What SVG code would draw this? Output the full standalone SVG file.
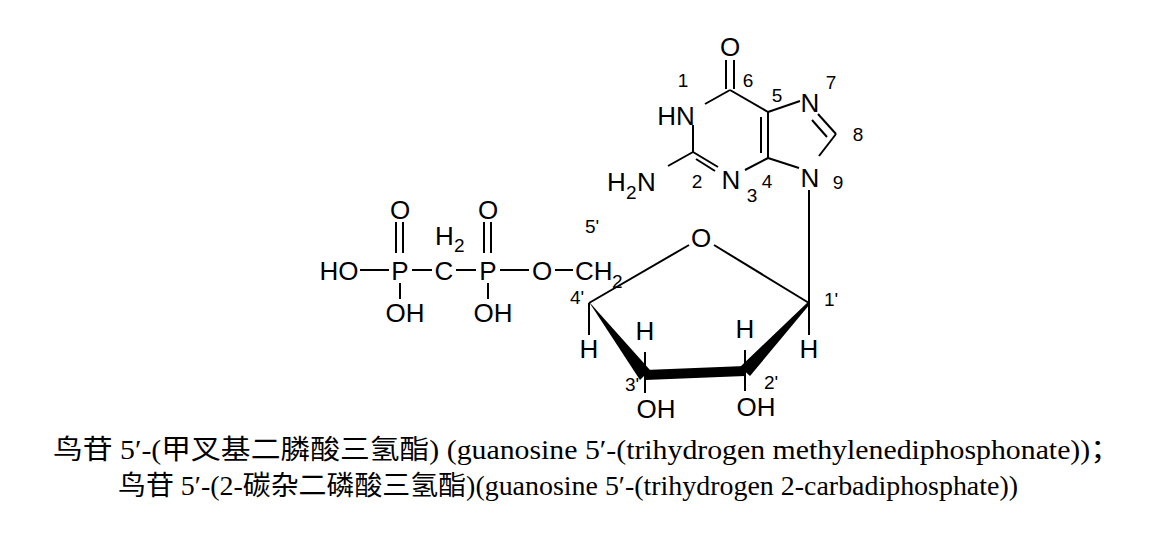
<svg xmlns="http://www.w3.org/2000/svg" width="1152" height="537" viewBox="0 0 1152 537">
<style>
.t{font-family:"Liberation Sans",Arial,sans-serif;font-size:26px;fill:#000}
.s{font-family:"Liberation Sans",Arial,sans-serif;font-size:19px;fill:#000}
.c{font-family:"Liberation Serif","Noto Sans CJK SC",serif;font-size:27px;fill:#000}
.b{stroke:#000;stroke-width:2;fill:none}
</style>
<rect width="1152" height="537" fill="#fff"/>
<g id="connectors" class="b">
<line x1="726" y1="60" x2="726" y2="89"/><line x1="734" y1="60" x2="734" y2="89"/>
<line x1="705" y1="104" x2="730" y2="90"/>
<line x1="730" y1="90" x2="768" y2="112"/>
<line x1="768" y1="112" x2="800" y2="101"/>
<line x1="768" y1="112" x2="768" y2="158"/><line x1="761" y1="117" x2="761" y2="153"/>
<line x1="768" y1="158" x2="745" y2="170"/>
<line x1="768" y1="158" x2="799" y2="168"/>
<line x1="818" y1="114" x2="836" y2="134"/><line x1="812" y1="120" x2="827" y2="137"/>
<line x1="836" y1="134" x2="819" y2="156"/>
<line x1="693" y1="125" x2="693" y2="152"/>
<line x1="693" y1="152" x2="718" y2="167"/><line x1="696" y1="159" x2="715" y2="171"/>
<line x1="693" y1="152" x2="668" y2="166"/>
<line x1="809" y1="190" x2="809" y2="303"/>
<line x1="589" y1="303" x2="689" y2="245"/>
<line x1="714" y1="245" x2="809" y2="303"/>
<line x1="809" y1="303" x2="809" y2="335"/>
<line x1="589" y1="303" x2="589" y2="335"/>
<line x1="645" y1="375" x2="645" y2="352"/>
<line x1="745" y1="371" x2="745" y2="350"/>
<line x1="645" y1="375" x2="645" y2="393"/>
<line x1="745" y1="371" x2="745" y2="391"/>
<line x1="396" y1="222" x2="396" y2="253"/><line x1="403" y1="222" x2="403" y2="253"/>
<line x1="400" y1="283" x2="400" y2="299"/>
<line x1="484" y1="222" x2="484" y2="253"/><line x1="491" y1="222" x2="491" y2="253"/>
<line x1="488" y1="283" x2="488" y2="299"/>
<line x1="360" y1="270" x2="389" y2="270"/>
<line x1="412" y1="270" x2="432" y2="270"/>
<line x1="456" y1="270" x2="476" y2="270"/>
<line x1="500" y1="270" x2="529" y2="270"/>
<line x1="555" y1="270" x2="573" y2="270"/>
<polygon points="589,302 591,304 650,370 640,380" fill="#000" stroke="none"/>
<polygon points="645,370 745,366 745,376 645,380" fill="#000" stroke="none"/>
<polygon points="740,367 750,376 810,304 808,302" fill="#000" stroke="none"/>
</g>
<g id="guanine">
<text class="t" x="730" y="56" text-anchor="middle">O</text>
<text class="t" x="676" y="125" text-anchor="middle">HN</text>
<text class="t" x="810" y="112" text-anchor="middle">N</text>
<text class="t" x="810" y="187" text-anchor="middle">N</text>
<text class="t" x="731" y="189" text-anchor="middle">N</text>
<text class="t" x="607" y="191">H</text><text class="s" x="626" y="199">2</text><text class="t" x="637" y="191">N</text>
<text class="s" x="683" y="87" text-anchor="middle">1</text>
<text class="s" x="748" y="87" text-anchor="middle">6</text>
<text class="s" x="777" y="102" text-anchor="middle">5</text>
<text class="s" x="831" y="89" text-anchor="middle">7</text>
<text class="s" x="858" y="141" text-anchor="middle">8</text>
<text class="s" x="838" y="189" text-anchor="middle">9</text>
<text class="s" x="767" y="188" text-anchor="middle">4</text>
<text class="s" x="752" y="202" text-anchor="middle">3</text>
<text class="s" x="697" y="188" text-anchor="middle">2</text>
</g>
<g id="ribose">
<text class="t" x="701" y="247" text-anchor="middle">O</text>
<text class="t" x="575" y="280">CH</text><text class="s" x="612" y="288">2</text>
<text class="s" x="592" y="233" text-anchor="middle">5'</text>
<text class="s" x="577" y="304" text-anchor="middle">4'</text>
<text class="s" x="831" y="306" text-anchor="middle">1'</text>
<text class="s" x="632" y="391" text-anchor="middle">3'</text>
<text class="s" x="771" y="389" text-anchor="middle">2'</text>
<text class="t" x="589" y="358" text-anchor="middle">H</text>
<text class="t" x="809" y="358" text-anchor="middle">H</text>
<text class="t" x="645" y="340" text-anchor="middle">H</text>
<text class="t" x="745" y="338" text-anchor="middle">H</text>
<text class="t" x="656" y="418" text-anchor="middle">OH</text>
<text class="t" x="756" y="416" text-anchor="middle">OH</text>
</g>
<g id="phosphonate">
<text class="t" x="339" y="280" text-anchor="middle">HO</text>
<text class="t" x="400" y="280" text-anchor="middle">P</text>
<text class="t" x="444" y="280" text-anchor="middle">C</text>
<text class="t" x="488" y="280" text-anchor="middle">P</text>
<text class="t" x="542" y="280" text-anchor="middle">O</text>
<text class="t" x="400" y="219" text-anchor="middle">O</text>
<text class="t" x="488" y="219" text-anchor="middle">O</text>
<text class="t" x="435" y="245">H</text><text class="s" x="454" y="252">2</text>
<text class="t" x="405" y="322" text-anchor="middle">OH</text>
<text class="t" x="493" y="322" text-anchor="middle">OH</text>
</g>
<g id="caption">
<text class="c" x="53" y="459" textLength="1067" lengthAdjust="spacingAndGlyphs">鸟苷 5′-(甲叉基二膦酸三氢酯) (guanosine 5′-(trihydrogen methylenediphosphonate))；</text>
<text class="c" x="118" y="495" textLength="900" lengthAdjust="spacingAndGlyphs">鸟苷 5′-(2-碳杂二磷酸三氢酯)(guanosine 5′-(trihydrogen 2-carbadiphosphate))</text>
</g>
</svg>
